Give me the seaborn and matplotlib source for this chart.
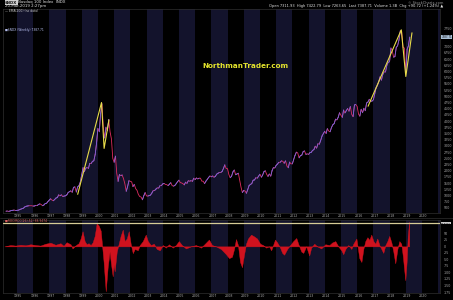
import numpy as np
import pandas as pd
import matplotlib
matplotlib.use("Agg")
import matplotlib.pyplot as plt
import matplotlib.transforms as mtransforms
from matplotlib.lines import Line2D
import seaborn as sns

# ---------------- data ----------------
# $NDX monthly closes, Apr-1994 .. Mar-2019
ndx_1994 = [370, 375, 360, 378, 400, 405, 415, 395, 404]
ndx_1995_1999 = [
    410, 430, 455, 475, 495, 545, 570, 580, 590, 590, 590, 576,
    580, 600, 595, 640, 665, 640, 590, 620, 680, 690, 760, 821,
    870, 820, 790, 840, 900, 920, 1030, 990, 1030, 960, 980, 990,
    1030, 1120, 1160, 1190, 1130, 1330, 1350, 1140, 1345, 1400, 1550, 1836,
    2130, 1960, 2100, 2130, 2090, 2300, 2290, 2380, 2400, 2660, 3100, 3708]
ndx_2000_2004 = [
    3570, 4300, 4700, 3770, 3320, 3760, 3610, 4070, 3570, 3280, 2500, 2340,
    2590, 1900, 1570, 1850, 1800, 1830, 1680, 1470, 1170, 1360, 1600, 1577,
    1550, 1360, 1450, 1280, 1210, 1050, 960, 940, 830, 990, 1120, 984,
    980, 1000, 1020, 1100, 1200, 1200, 1260, 1310, 1300, 1400, 1400, 1467,
    1490, 1450, 1440, 1400, 1460, 1520, 1400, 1380, 1410, 1480, 1560, 1621]
ndx_2005_2009 = [
    1520, 1510, 1480, 1430, 1540, 1490, 1600, 1580, 1600, 1570, 1700, 1645,
    1710, 1670, 1700, 1700, 1580, 1580, 1480, 1580, 1650, 1730, 1790, 1756,
    1790, 1740, 1770, 1860, 1900, 1930, 1930, 1970, 2090, 2240, 2090, 2084,
    1840, 1720, 1780, 1950, 2030, 1840, 1870, 1900, 1620, 1330, 1120, 1212,
    1180, 1090, 1240, 1400, 1450, 1480, 1620, 1630, 1720, 1700, 1780, 1860]
ndx_2010_2014 = [
    1740, 1820, 1960, 2000, 1860, 1770, 1870, 1780, 2000, 2130, 2110, 2217,
    2270, 2340, 2340, 2400, 2380, 2300, 2400, 2190, 2120, 2350, 2280, 2277,
    2460, 2620, 2750, 2720, 2520, 2610, 2630, 2770, 2800, 2660, 2680, 2660,
    2730, 2740, 2820, 2850, 2990, 2910, 3090, 3070, 3220, 3400, 3500, 3592,
    3500, 3700, 3600, 3570, 3740, 3850, 3900, 4080, 4050, 4160, 4340, 4236]
ndx_2015_2019 = [
    4150, 4450, 4330, 4420, 4510, 4400, 4590, 4270, 4180, 4650, 4670, 4593,
    4280, 4200, 4480, 4340, 4520, 4420, 4730, 4770, 4880, 4800, 4810, 4864,
    5100, 5330, 5440, 5580, 5790, 5650, 5880, 5990, 5980, 6250, 6370, 6396,
    6950, 6860, 6580, 6600, 6970, 7040, 7270, 7650, 7630, 6970, 6950, 5950,
    6900, 7030, 7387]

# lower-panel ROC indicator (decimal year, value)
roc_years = [
    1994.23, 1994.60, 1994.91, 1995.22, 1995.53, 1995.84, 1996.14, 1996.45, 1996.76, 1997.07,
    1997.38, 1997.69, 1997.88, 1998.06, 1998.31, 1998.43, 1998.62, 1998.81, 1998.93, 1999.05,
    1999.18, 1999.30, 1999.42, 1999.55, 1999.67, 1999.80, 1999.92, 2000.04, 2000.17, 2000.23,
    2000.35, 2000.48, 2000.60, 2000.72, 2000.79, 2000.91, 2000.97, 2001.03, 2001.16, 2001.28,
    2001.40, 2001.53, 2001.65, 2001.78, 2001.90, 2002.02, 2002.15, 2002.27, 2002.46, 2002.58,
    2002.77, 2002.95, 2003.08, 2003.26, 2003.45, 2003.63, 2003.82, 2004.00, 2004.19, 2004.38,
    2004.62, 2004.81, 2004.99, 2005.18, 2005.43, 2005.74, 2006.05, 2006.36, 2006.60, 2006.85,
    2007.04, 2007.28, 2007.59, 2007.90, 2008.09, 2008.27, 2008.40, 2008.52, 2008.64, 2008.77,
    2008.89, 2009.02, 2009.14, 2009.26, 2009.45, 2009.64, 2009.82, 2010.01, 2010.19, 2010.38,
    2010.56, 2010.69, 2010.81, 2010.93, 2011.06, 2011.24, 2011.37, 2011.49, 2011.68, 2011.86,
    2012.05, 2012.24, 2012.36, 2012.55, 2012.67, 2012.85, 2013.04, 2013.16, 2013.35, 2013.53,
    2013.78, 2014.03, 2014.28, 2014.46, 2014.65, 2014.83, 2015.02, 2015.14, 2015.27, 2015.45,
    2015.64, 2015.76, 2015.95, 2016.07, 2016.13, 2016.26, 2016.38, 2016.50, 2016.63, 2016.75,
    2016.87, 2017.00, 2017.12, 2017.24, 2017.37, 2017.49, 2017.61, 2017.74, 2017.86, 2017.98,
    2018.11, 2018.23, 2018.35, 2018.48, 2018.60, 2018.72, 2018.82, 2018.90, 2018.97, 2019.05,
    2019.12, 2019.21]
roc_values = [
    0, 5, 3, 6, 4, 8, 5, 3, 10, 14,
    6, 12, 2, 16, 8, -8, 4, 12, 30, 58,
    20, 8, 12, 5, 15, 40, 88, 80, 60, 20,
    -60, -172, -80, -20, -60, -115, -70, -96, -20, 10,
    40, 64, 20, 30, 58, 10, -26, -10, -15, 5,
    20, 45, 20, 5, 10, -10, -15, 5, -5, 8,
    -5, 5, 20, 5, -8, 0, 5, -5, 10, 26,
    5, 0, -10, -30, -45, -40, -10, 28, 5, -60,
    -80, -30, 10, 30, 45, 38, 30, 10, 5, -5,
    0, -15, 5, 26, 15, -5, -25, -32, -10, 5,
    20, 32, 10, -20, -25, 0, -35, -5, 10, 0,
    -8, 8, 5, 15, 20, 0, -15, -30, -10, 5,
    -10, 10, 30, -20, -45, -60, -10, 20, 35, 25,
    45, 20, 10, 30, 5, -10, -25, 5, 20, 40,
    15, -20, -65, -10, 20, 10, -40, -90, -130, -60,
    40, 95]

# hand-drawn yellow annotation lines
bubble2000_years = [1998.75, 2000.22, 2000.38, 2000.68]
bubble2000_values = [1050, 4750, 2900, 4050]
bubble2018_years = [2016.67, 2018.72, 2019.00, 2019.38]
bubble2018_values = [4600, 7680, 5800, 7560]

year_labels = list(range(1995, 2021))
price_ticks = list(range(500, 7751, 250))
roc_ticks = list(range(-175, 76, 25))
last_price = 7387.71
last_roc = 88.9474

# ---------------- style ----------------
sns.set_theme(style="dark")
plt.rcParams["font.family"] = ["DejaVu Sans"]

W, H = 453, 300
BG = "#000000"
BAND = "#13132c"
GRID_TXT = "#a8a8a8"
UP = "#7466e0"
DOWN = "#e02c62"
YEL = "#e8dc4a"
ROC_RED = "#d0121e"

fig = plt.figure(figsize=(W / 100, H / 100), dpi=100)
fig.patch.set_facecolor(BG)

def box(l, t, r, b):
    return [l / W, 1 - b / H, (r - l) / W, (b - t) / H]

ax1 = fig.add_axes(box(3, 9, 440, 213))
ax2 = fig.add_axes(box(3, 220, 440, 293))

x0, x1 = 1994.14, 2021.11

for ax in (ax1, ax2):
    ax.set_facecolor(BG)
    ax.set_xlim(x0, x1)
    for yr in range(1995, 2022, 2):
        ax.axvspan(yr, yr + 1, color=BAND, lw=0, zorder=0)
    for s in ax.spines.values():
        s.set_color("#2e2e2e")
        s.set_linewidth(0.5)
    ax.grid(False)
    ax.set_xticks([y + 0.08 for y in year_labels])
    ax.set_xticklabels([str(y) for y in year_labels], fontsize=2.3, color=GRID_TXT)
    ax.tick_params(axis="x", length=0, pad=0.8)
    ax.yaxis.tick_right()
    ax.tick_params(axis="y", length=0, pad=2.5, labelsize=2.3, labelcolor=GRID_TXT)

# ---------------- price panel ----------------
close = ndx_1994 + ndx_1995_1999 + ndx_2000_2004 + ndx_2005_2009 + ndx_2010_2014 + ndx_2015_2019
dates = pd.date_range("1994-04-30", periods=len(close), freq="ME")
t = (dates.year + (dates.dayofyear - 1) / 365.25).to_numpy()
price = pd.DataFrame({"t": t, "v": close})

ax1.set_ylim(297, 8520)
ax1.set_yticks(price_ticks)
ax1.set_yticklabels(["" if v in (7250, 7500) else str(v) for v in price_ticks])

sns.lineplot(data=price, x="t", y="v", ax=ax1, color=DOWN, lw=0.6, estimator=None, zorder=3)
rows = []
for i in range(len(close) - 1):
    if close[i + 1] > close[i]:
        rows.append((t[i], close[i], i))
        rows.append((t[i + 1], close[i + 1], i))
up = pd.DataFrame(rows, columns=["t", "v", "seg"])
sns.lineplot(data=up, x="t", y="v", units="seg", estimator=None, ax=ax1,
             color=UP, lw=0.6, zorder=4)

sns.lineplot(x=bubble2000_years, y=bubble2000_values, ax=ax1, color=YEL, lw=0.8,
             sort=False, estimator=None, zorder=5)
sns.lineplot(x=bubble2018_years, y=bubble2018_values, ax=ax1, color=YEL, lw=0.8,
             sort=False, estimator=None, zorder=5)
ax1.set_xlabel("")
ax1.set_ylabel("")

tr1 = mtransforms.blended_transform_factory(ax1.transAxes, ax1.transData)
ax1.text(1.003, last_price, f"{last_price:.2f}", transform=tr1, fontsize=1.9,
         color="#101010", va="center", ha="left",
         bbox=dict(facecolor="#a9bfd6", edgecolor="none", pad=0.25))

ax1.text(0.005, 0.898, "\u25a0$NDX (Weekly) 7387.71", transform=ax1.transAxes,
         fontsize=2.2, color="#b8c0f0", va="center", ha="left")
ax1.text(0.005, 0.99, "\u2014 EMA(200) (no data)", transform=ax1.transAxes,
         fontsize=2.2, color="#c8c8c8", va="center", ha="left")
ax1.text(0.555, 0.72, "NorthmanTrader.com", transform=ax1.transAxes,
         fontsize=5.2, fontweight="bold", color="#e4e42c", va="center", ha="center")

# ---------------- ROC panel ----------------
ax2.set_ylim(-178.7, 101)
ax2.set_yticks(roc_ticks)
ax2.set_yticklabels(["" if v == 75 else str(v) for v in roc_ticks])
ax2.fill_between(roc_years, roc_values, 0, color=ROC_RED, lw=0.3, zorder=3)
ax2.axhline(89.5, color="#d6cc96", lw=0.9, zorder=4)
ax2.set_xlabel("")
ax2.set_ylabel("")
tr2 = mtransforms.blended_transform_factory(ax2.transAxes, ax2.transData)
ax2.text(1.003, 89.5, f"{last_roc:.4f}", transform=tr2, fontsize=1.7,
         color="#101010", va="center", ha="left",
         bbox=dict(facecolor="#c8c8c8", edgecolor="none", pad=0.2))
ax2.text(0.005, 97, "\u25a0ROC(ROC(26),52) 88.9474", transform=tr2,
         fontsize=2.2, color="#e06060", va="center", ha="left", zorder=6)

# ---------------- header ----------------
def fx(px):
    return px / W

def fy(py):
    return 1 - py / H

fig.text(fx(5), fy(2.5), "$NDX", fontsize=2.8, fontweight="bold", color="#101010",
         va="center", ha="left", bbox=dict(facecolor="#d0d0d0", edgecolor="none", pad=0.2))
fig.text(fx(18), fy(2.5), "Nasdaq 100 Index  INDX", fontsize=2.8, color="#e0e0e0",
         va="center", ha="left")
fig.text(fx(5), fy(6.5), "20-Mar-2019 2:27pm", fontsize=2.8, color="#e0e0e0",
         va="center", ha="left")
fig.text(fx(443), fy(2.5), "\u00a9 StockCharts.com", fontsize=2.5, color="#9a9a9a",
         va="center", ha="right")
fig.text(fx(443), fy(6.5),
         "Open 7311.93  High 7422.79  Low 7263.65  Last 7387.71  Volume 1.3B  Chg +90.72 (+1.24%) \u25b2",
         fontsize=2.6, color="#e0e0e0", va="center", ha="right")
fig.add_artist(Line2D([0, 1], [fy(217.5), fy(217.5)], color="#2e2e2e", lw=0.5))

fig.savefig("out.png", dpi=100, facecolor=BG)
